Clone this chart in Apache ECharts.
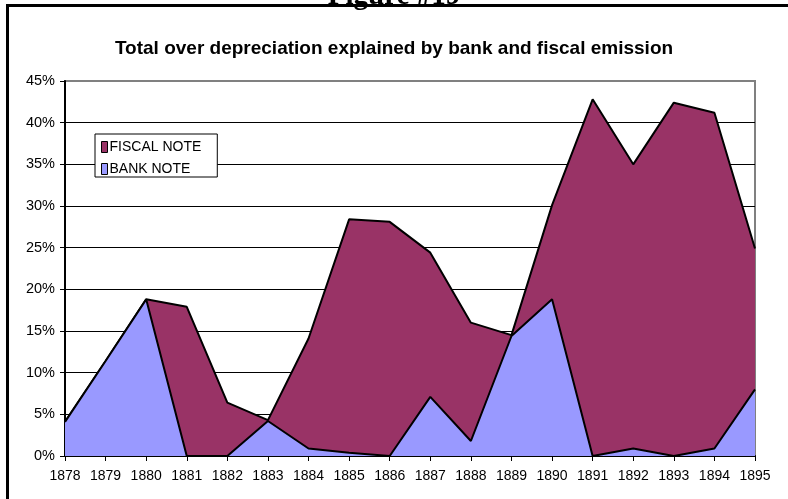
<!DOCTYPE html>
<html>
<head>
<meta charset="utf-8">
<script src="https://cdn.jsdelivr.net/npm/echarts@6/dist/echarts.min.js"></script>
<style>
html,body{margin:0;padding:0;background:#fff;}
#chart{width:788px;height:499px;}
</style>
</head>
<body>
<div id="chart"></div>
<script>
const years = ['1878','1879','1880','1881','1882','1883','1884','1885','1886','1887','1888','1889','1890','1891','1892','1893','1894','1895'];
const bankNote = [4.1, 11.4, 18.8, 0, 0, 4.2, 0.9, 0.4, 0, 7.1, 1.8, 14.4, 18.8, 0, 0.9, 0, 0.9, 8.0];
const fiscalNote = [0, 0, 0, 17.9, 6.4, 0.1, 13.2, 28.0, 28.1, 17.3, 14.2, 0.1, 11.3, 42.8, 34.1, 42.4, 40.3, 16.9];
const yTicks = [0, 5, 10, 15, 20, 25, 30, 35, 40, 45];

const chart = echarts.init(document.getElementById('chart'), null, {renderer: 'canvas'});
const font = 'Arial, "Liberation Sans", sans-serif';
chart.setOption({
  animation: false,
  backgroundColor: '#fff',
  title: {
    text: 'Total over depreciation explained by bank and fiscal emission',
    left: 'center',
    top: 34,
    textStyle: {fontFamily: font, fontSize: 19, fontWeight: 'bold', color: '#000'}
  },
  graphic: [
    {type: 'text', left: 'center', top: -18, z: 10,
     style: {text: 'Figure #19', font: 'bold 29px "Liberation Serif", "Times New Roman", serif', fill: '#000'}},
    {type: 'rect', z: 20, shape: {x: 7.5, y: 5.5, width: 820, height: 540},
     style: {fill: 'none', stroke: '#000', lineWidth: 3}}
  ],
  legend: {
    data: ['FISCAL NOTE', 'BANK NOTE'],
    orient: 'vertical',
    left: 95,
    top: 134,
    backgroundColor: '#fff',
    borderColor: '#000',
    borderWidth: 1,
    padding: [6, 16, 1, 6],
    itemWidth: 6,
    itemHeight: 11,
    itemGap: 8,
    icon: 'rect',
    textStyle: {fontFamily: font, fontSize: 14, color: '#000', padding: [0, 0, 0, -3]},
    itemStyle: {borderColor: '#000', borderWidth: 1}
  },
  grid: {
    left: 65, top: 81, width: 690, height: 375,
    show: true, borderColor: '#808080', borderWidth: 2, backgroundColor: 'transparent'
  },
  xAxis: {
    type: 'category',
    data: years,
    boundaryGap: false,
    axisLine: {lineStyle: {color: '#000', width: 2}},
    axisTick: {show: true, inside: false, length: 5, lineStyle: {color: '#000', width: 1}, alignWithLabel: true},
    axisLabel: {fontFamily: font, fontSize: 14, color: '#000', margin: 13, interval: 0}
  },
  yAxis: {
    type: 'value',
    min: yTicks[0],
    max: yTicks[yTicks.length - 1],
    interval: 5,
    axisLine: {show: true, lineStyle: {color: '#000', width: 2}},
    axisTick: {show: true, inside: false, length: 5, lineStyle: {color: '#000'}},
    axisLabel: {fontFamily: font, fontSize: 14.5, color: '#000', margin: 10, formatter: v => v + '%'},
    splitLine: {show: true, lineStyle: {color: ['#000','#000','#000','#000','#000','#000','#000','#000','#000','#808080'], width: 1}}
  },
  series: [
    {
      name: 'BANK NOTE', type: 'line', stack: 'total', data: bankNote,
      symbol: 'none', z: 3,
      lineStyle: {color: '#000', width: 2},
      itemStyle: {color: '#9999FF', borderColor: '#000', borderWidth: 1},
      areaStyle: {color: '#9999FF', opacity: 1}
    },
    {
      name: 'FISCAL NOTE', type: 'line', stack: 'total', data: fiscalNote,
      symbol: 'none', z: 2,
      lineStyle: {color: '#000', width: 2},
      itemStyle: {color: '#993366', borderColor: '#000', borderWidth: 1},
      areaStyle: {color: '#993366', opacity: 1}
    }
  ]
});
</script>
</body>
</html>
